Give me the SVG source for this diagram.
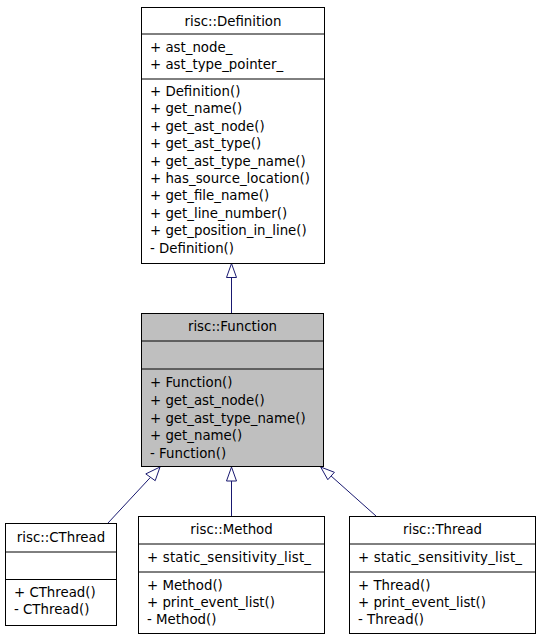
<svg xmlns="http://www.w3.org/2000/svg" width="541" height="640" viewBox="0 0 541 640">
<style>
  .box { fill: #ffffff; stroke: #000000; stroke-width: 1; }
  .grey { fill: #bfbfbf; }
  .sep { stroke: #000000; stroke-width: 1; fill: none; }
  text { font-family: "DejaVu Sans", "Noto Sans", sans-serif; font-size: 13.33px; fill: #000000; }
  .t { text-anchor: middle; }
  .edge { stroke: #191970; stroke-width: 1; fill: none; }
  .head { stroke: #191970; stroke-width: 1; fill: #ffffff; }
</style>
<rect width="541" height="640" fill="#ffffff"/>

<g id="edges">
  <line class="edge" x1="231.5" y1="313" x2="231.5" y2="277"/>
  <polygon class="head" points="231.5,263.5 226.5,277.5 236.5,277.5"/>
  <line class="edge" x1="108" y1="523" x2="150.5" y2="477.3"/>
  <polygon class="head" points="160,467 155.2,480.7 145.8,473.9"/>
  <line class="edge" x1="231.5" y1="516" x2="231.5" y2="481"/>
  <polygon class="head" points="231.5,467 226.5,481 236.5,481"/>
  <line class="edge" x1="376" y1="516" x2="331.1" y2="476"/>
  <polygon class="head" points="320.7,467 327.8,479.7 334.4,472.3"/>
</g>

<g id="node-definition">
  <rect class="box" x="141.5" y="7.5" width="183" height="256"/>
  <line class="sep" x1="141.5" y1="34" x2="324.5" y2="34"/>
  <line class="sep" x1="141.5" y1="79" x2="324.5" y2="79"/>
  <text class="t" x="233" y="25.5">risc::Definition</text>
  <text x="150" y="52">+ ast_node_</text>
  <text x="150" y="69.4">+ ast_type_pointer_</text>
  <text x="150" y="96">+ Definition()</text>
  <text x="150" y="113.4">+ get_name()</text>
  <text x="150" y="130.8">+ get_ast_node()</text>
  <text x="150" y="148.2">+ get_ast_type()</text>
  <text x="150" y="165.6">+ get_ast_type_name()</text>
  <text x="150" y="183">+ has_source_location()</text>
  <text x="150" y="200.4">+ get_file_name()</text>
  <text x="150" y="217.8">+ get_line_number()</text>
  <text x="150" y="235.2">+ get_position_in_line()</text>
  <text x="150" y="252.6">- Definition()</text>
</g>

<g id="node-function">
  <rect class="box grey" x="141.5" y="313.5" width="182" height="153"/>
  <line class="sep" x1="141.5" y1="341" x2="323.5" y2="341"/>
  <line class="sep" x1="141.5" y1="369" x2="323.5" y2="369"/>
  <text class="t" x="232.5" y="331">risc::Function</text>
  <text x="150" y="387.3">+ Function()</text>
  <text x="150" y="404.9">+ get_ast_node()</text>
  <text x="150" y="422.5">+ get_ast_type_name()</text>
  <text x="150" y="440.1">+ get_name()</text>
  <text x="150" y="457.7">- Function()</text>
</g>

<g id="node-cthread">
  <rect class="box" x="5.5" y="523.5" width="111" height="102"/>
  <line class="sep" x1="5.5" y1="552" x2="116.5" y2="552"/>
  <line class="sep" x1="5.5" y1="579.5" x2="116.5" y2="579.5"/>
  <text class="t" x="61" y="541.5">risc::CThread</text>
  <text x="14" y="597">+ CThread()</text>
  <text x="14" y="614.4">- CThread()</text>
</g>

<g id="node-method">
  <rect class="box" x="138.5" y="516.5" width="186" height="117"/>
  <line class="sep" x1="138.5" y1="544" x2="324.5" y2="544"/>
  <line class="sep" x1="138.5" y1="572" x2="324.5" y2="572"/>
  <text class="t" x="231.5" y="534">risc::Method</text>
  <text x="147" y="562.3" textLength="164" lengthAdjust="spacing">+ static_sensitivity_list_</text>
  <text x="147" y="589.5">+ Method()</text>
  <text x="147" y="606.9">+ print_event_list()</text>
  <text x="147" y="624.3">- Method()</text>
</g>

<g id="node-thread">
  <rect class="box" x="349.5" y="516.5" width="186" height="117"/>
  <line class="sep" x1="349.5" y1="544" x2="535.5" y2="544"/>
  <line class="sep" x1="349.5" y1="572" x2="535.5" y2="572"/>
  <text class="t" x="442.5" y="534">risc::Thread</text>
  <text x="358" y="562.3" textLength="164" lengthAdjust="spacing">+ static_sensitivity_list_</text>
  <text x="358" y="589.5">+ Thread()</text>
  <text x="358" y="606.9">+ print_event_list()</text>
  <text x="358" y="624.3">- Thread()</text>
</g>
</svg>
